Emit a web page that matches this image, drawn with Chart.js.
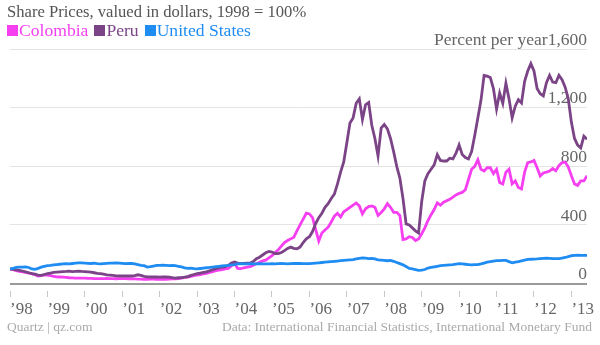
<!DOCTYPE html>
<html>
<head>
<meta charset="utf-8">
<script src="https://cdn.jsdelivr.net/npm/chart.js@4/dist/chart.umd.min.js"></script>
<style>
  body { margin: 0; background: #fff; }
  #wrap { position: relative; width: 600px; height: 345px; font-family: "Liberation Serif", serif; }
  #title { position: absolute; left: 7px; top: 2px; font-size: 16.6px; color: #555; white-space: nowrap; }
  #legend { position: absolute; left: 7px; top: 20px; font-size: 17.6px; white-space: nowrap; }
  #legend span { margin-right: 6px; }
  #legend i { display: inline-block; width: 11px; height: 11px; margin-right: 1px; }
  .foot { position: absolute; top: 319px; font-size: 13.5px; color: #aaa; white-space: nowrap; }
  canvas { position: absolute; left: 0; top: 0; }
</style>
</head>
<body>
<div id="wrap">
  <canvas id="chart" width="600" height="345"></canvas>
  <div id="title">Share Prices, valued in dollars, 1998 = 100%</div>
  <div id="legend"></div>
  <div class="foot" style="left:7px">Quartz | qz.com</div>
  <div class="foot" style="right:8px">Data: International Financial Statistics, International Monetary Fund</div>
</div>
<script>
// monthly, Jan 1998 .. Jun 2013
const startYear = 1998;

const colombia = [
  100, 95, 88, 83, 80, 76, 72, 68, 60, 52, 55, 60,
  58, 54, 50, 46, 45, 44, 42, 40, 39, 38, 38, 38,
  37, 36, 35, 34, 34, 34, 34, 35, 34, 34, 33, 34,
  34, 34, 33, 34, 32, 30, 30, 29, 29, 30, 30, 29,
  29, 30, 29, 30, 32, 33, 34, 38, 42, 45, 50, 55,
  58, 62, 66, 70, 76, 82, 88, 92, 95, 100, 104, 120,
  136, 104, 102, 108, 113, 115, 125, 135, 145, 155, 160, 175,
  190, 210, 230, 255, 280, 294, 305, 317, 360, 400, 440, 480,
  475, 450, 370, 290, 345, 365, 385, 420, 460, 480, 455, 490,
  505, 520, 535, 550, 530, 475, 510, 525, 530, 520, 465, 485,
  510, 545, 520, 486, 486, 465, 300, 305, 320, 315, 294, 305,
  340, 380, 430, 470, 505, 550, 535, 555, 565, 575, 590, 605,
  615, 622, 640, 710, 780, 800, 845, 780, 768, 790, 790, 750,
  780, 690, 680, 760, 780, 680, 700, 655, 645, 760, 825, 830,
  840, 790, 734, 755, 760, 768, 785, 770, 805, 825, 829, 795,
  735, 680, 670, 700, 700, 735
];

const peru = [
  100, 97, 93, 90, 86, 80, 74, 68, 64, 58, 56, 62,
  68, 72, 76, 78, 80, 82, 83, 85, 82, 84, 85, 83,
  82, 80, 78, 74, 70, 68, 64, 60, 58, 56, 53, 52,
  53, 52, 52, 52, 55, 60, 56, 50, 46, 45, 46, 45,
  44, 45, 45, 44, 40, 38, 40, 41, 44, 48, 56, 62,
  68, 72, 76, 80, 88, 95, 102, 108, 112, 115, 125, 140,
  147, 140, 137, 138, 140, 140, 150, 170, 180, 195, 210, 219,
  215, 205, 205, 212, 225, 240, 249, 240, 238, 249, 280, 305,
  320, 355, 410, 450, 480, 520, 545, 580, 610, 680, 760, 830,
  960, 1095, 1130, 1230, 1260, 1120, 1220, 1235, 1080, 990, 870, 1060,
  1085, 1055, 990, 900, 800, 720, 580, 407, 400, 380, 360, 345,
  560, 700, 750, 780, 810, 880, 840, 836, 836, 855, 850, 890,
  945, 880, 860, 850, 900, 1010, 1130, 1250, 1420, 1415, 1405, 1330,
  1190, 1300, 1230, 1367, 1260, 1130, 1210, 1254, 1232, 1380, 1450, 1500,
  1450, 1330, 1295, 1280, 1370, 1420, 1375, 1370, 1420, 1390, 1340, 1260,
  1100, 990, 945, 925, 1006, 985
];

const unitedStates = [
  100, 104, 110, 113, 112, 114, 110, 100, 97, 104, 112, 117,
  122, 124, 127, 130, 132, 134, 136, 134, 137, 139, 141, 141,
  140, 138, 137, 139, 136, 134, 136, 138, 140, 139, 141, 140,
  138, 136, 138, 137, 134, 130, 124, 122, 113, 116, 120, 124,
  124, 126, 124, 122, 124, 122, 118, 114, 108, 104, 106, 102,
  100, 103, 106, 108, 110, 113, 116, 118, 120, 122, 124, 127,
  130, 134, 136, 135, 134, 136, 135, 134, 136, 135, 134, 135,
  136, 135, 136, 137, 136, 135, 136, 137, 138, 137, 136, 136,
  136, 138, 140, 142, 144, 146, 148, 150, 152, 154, 156, 158,
  160, 162, 164, 168, 172, 176, 174, 170, 172, 168, 162, 160,
  158, 156, 158, 152, 144, 136, 128, 116, 104, 100, 95, 90,
  92, 96, 106, 110, 114, 118, 122, 124, 126, 128, 130, 133,
  136, 134, 132, 130, 128, 129, 129, 134, 140, 146, 150, 154,
  156, 157, 158, 158, 150, 142, 146, 150, 155, 160, 165, 166,
  167, 168, 170, 172, 174, 172, 170, 170, 170, 174, 178, 184,
  190, 192, 194, 193, 192, 192
];

const yTicks = [0, 400, 800, 1200, 1600];
const yearTicks = [1998, 1999, 2000, 2001, 2002, 2003, 2004, 2005, 2006, 2007, 2008, 2009, 2010, 2011, 2012, 2013];

const series = [
  { name: 'Colombia', values: colombia, color: '#f53ff0', order: 2 },
  { name: 'Peru', values: peru, color: '#7b4486', order: 1 },
  { name: 'United States', values: unitedStates, color: '#1f8cf2', order: 0 }
];

const legend = document.getElementById('legend');
series.forEach(s => {
  legend.innerHTML += `<span style="color:${s.color}"><i style="background:${s.color}"></i>${s.name}</span>`;
});

const toPoints = vals => vals.map((v, i) => ({ x: startYear + i / 12, y: v }));

new Chart(document.getElementById('chart'), {
  type: 'line',
  data: {
    datasets: series.map(s => ({
      label: s.name,
      data: toPoints(s.values),
      borderColor: s.color,
      borderWidth: 2.8,
      pointRadius: 0,
      tension: 0,
      order: s.order
    }))
  },
  options: {
    responsive: false,
    animation: false,
    layout: { padding: { left: 10, right: 13, top: 49, bottom: 23 } },
    plugins: { legend: { display: false }, tooltip: { enabled: false } },
    scales: {
      x: {
        type: 'linear',
        min: startYear,
        max: startYear + (colombia.length - 1) / 12,
        afterBuildTicks: axis => { axis.ticks = yearTicks.map(v => ({ value: v })); },
        ticks: {
          autoSkip: false,
          maxRotation: 0,
          align: 'start',
          padding: 2,
          color: '#666',
          font: { family: 'Liberation Serif', size: 17 },
          callback: v => '\u2019' + String(v).slice(2)
        },
        grid: {
          drawOnChartArea: false,
          tickLength: 14,
          tickColor: '#c8c8c8',
          tickBorderDash: [0, 7, 6, 50]
        },
        border: { display: false }
      },
      y: {
        position: 'right',
        min: 0,
        max: 1600,
        afterBuildTicks: axis => { axis.ticks = yTicks.map(v => ({ value: v })); },
        afterFit: axis => { axis.width = 0; },
        ticks: {
          mirror: true,
          padding: 0,
          labelOffset: -9,
          color: '#666',
          font: { family: 'Liberation Serif', size: 17.5 },
          callback: v => (v === 1600 ? 'Percent per year' : '') + v.toLocaleString('en-US')
        },
        grid: {
          drawTicks: false,
          color: c => (c.tick && c.tick.value === 0 ? '#9a9a9a' : '#e4e4e4'),
          lineWidth: c => (c.tick && c.tick.value === 0 ? 2 : 1)
        },
        border: { display: false }
      }
    }
  }
});
</script>
</body>
</html>
